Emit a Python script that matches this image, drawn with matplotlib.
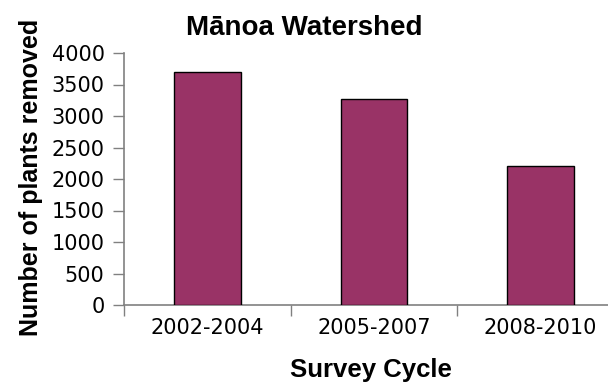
import matplotlib.pyplot as plt

cycles = ['2002-2004', '2005-2007', '2008-2010']
removed = [3700, 3270, 2200]
yticks = [0, 500, 1000, 1500, 2000, 2500, 3000, 3500, 4000]

plt.rcParams['font.family'] = ['Liberation Sans', 'DejaVu Sans']

fig = plt.figure(figsize=(6.08, 3.83), dpi=100)
ax = fig.add_axes([124 / 608, 78 / 383, 500 / 608, 252 / 383])

pos = list(range(len(cycles)))
ax.bar(pos, removed, width=0.4, color='#993366', edgecolor='black', linewidth=1, zorder=3)

ax.set_xlim(-0.5, len(cycles) - 0.5)
ax.set_ylim(0, 4000)

# tick marks sit between categories, labels in the middle
ax.set_xticks([p - 0.5 for p in pos])
ax.set_xticklabels([])
ax.set_xticks(pos, minor=True)
ax.set_xticklabels(cycles, minor=True, fontsize=15, family='DejaVu Sans')
ax.tick_params(axis='x', which='major', length=8, width=1, color='#808080')
ax.tick_params(axis='x', which='minor', length=0, pad=9)

ax.set_yticks(yticks)
ax.set_yticklabels([str(v) for v in yticks], fontsize=15, family='DejaVu Sans')
ax.tick_params(axis='y', length=8, width=1, color='#808080', pad=6)

for side in ['top', 'right']:
    ax.spines[side].set_visible(False)
for side in ['left', 'bottom']:
    ax.spines[side].set_color('#808080')
    ax.spines[side].set_linewidth(1.2)

fig.text(0.5, 1 - 35 / 383, 'Mānoa Watershed', ha='center', va='baseline',
         fontsize=20, fontweight='bold')
fig.text(31 / 608, 1 - 177 / 383, 'Number of plants removed', rotation=90,
         ha='center', va='center', fontsize=18, fontweight='bold')
fig.text(371 / 608, 1 - 377 / 383, 'Survey Cycle', ha='center', va='baseline',
         fontsize=18.5, fontweight='bold')

fig.savefig('out.png', dpi=100)
